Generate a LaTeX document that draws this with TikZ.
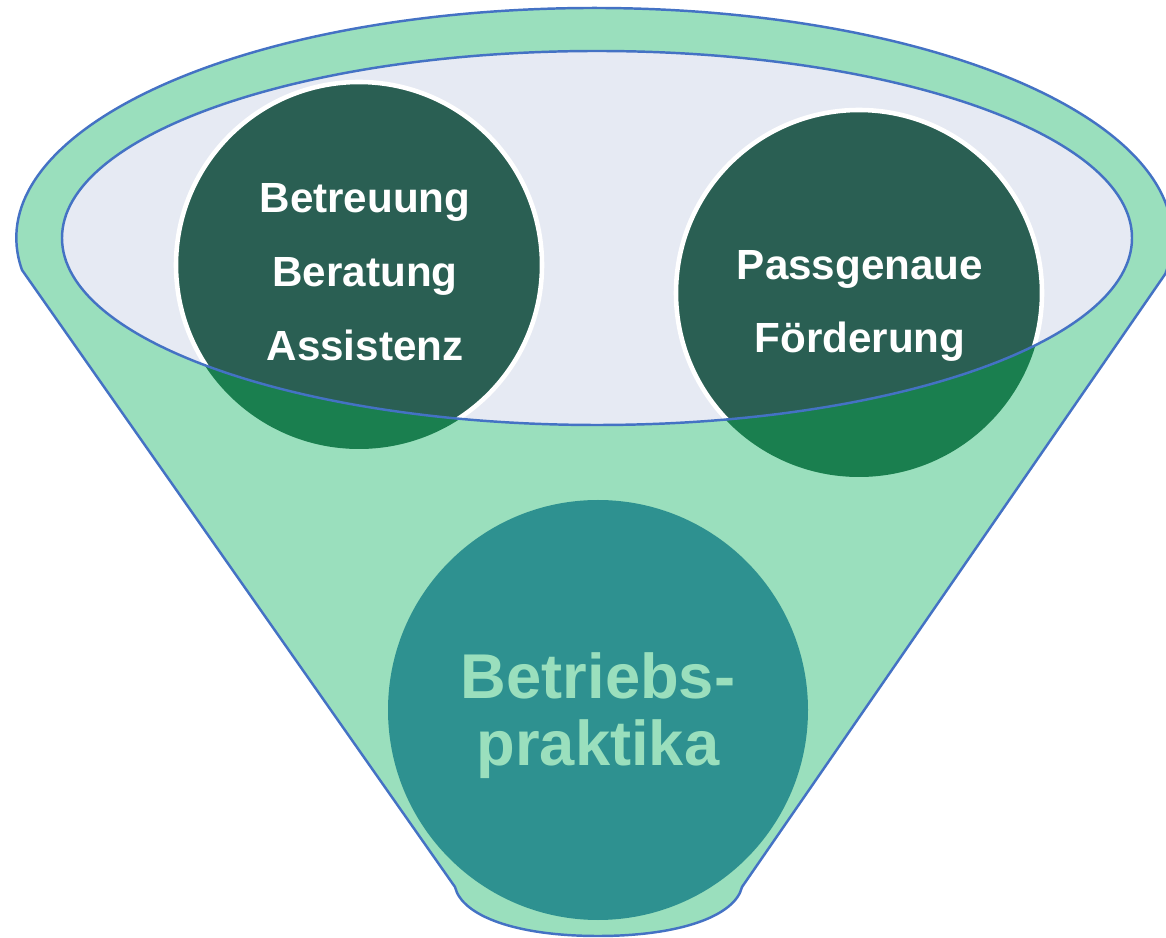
\documentclass[tikz,border=0pt]{standalone}
\usepackage{fontspec}
\setmainfont{Liberation Sans}
\definecolor{funnelgreen}{HTML}{9ADFBD}
\definecolor{rimblue}{HTML}{4472C4}
\definecolor{mouthgrey}{HTML}{E6EAF3}
\definecolor{darkpine}{HTML}{2A5F53}
\definecolor{deepgreen}{HTML}{1A7F4F}
\definecolor{tealfill}{HTML}{2E9190}
\tikzset{
  funnel/.style={fill=funnelgreen,draw=rimblue,line width=0.7pt},
  mouth/.style={draw=rimblue,line width=0.7pt},
  topball/.style={fill=darkpine,draw=white,line width=1.3pt},
  lowball/.style={fill=deepgreen},
  balltext/.style={text=white,font=\bfseries\fontsize{12}{21}\selectfont,align=center},
  bigtext/.style={text=funnelgreen,font=\bfseries\fontsize{18}{19}\selectfont,align=center}
}
\begin{document}
\begin{tikzpicture}
\useasboundingbox (0,0) rectangle (11.66,9.38);
\clip (0,0) rectangle (11.66,9.38);

\coordinate (lefthub)  at (3.59,6.73);
\coordinate (righthub) at (8.59,6.45);
\coordinate (tiphub)   at (5.98,2.28);
\coordinate (mouthhub) at (5.97,7.00);

\path[funnel] (0.22,6.68)
  arc[start angle=188,end angle=-9,x radius=5.78cm,y radius=2.30cm]
  -- (7.42,0.51)
  .. controls (7.35,0.22) and (6.80,0.02) .. (5.98,0.02)
  .. controls (5.16,0.02) and (4.62,0.22) .. (4.55,0.51)
  -- cycle;

\fill[mouthgrey] (mouthhub) ellipse[x radius=5.35cm,y radius=1.87cm];

\begin{scope}[every path/.style={lowball}]
  \path (lefthub)  circle[radius=1.84cm];
  \path (righthub) circle[radius=1.84cm];
\end{scope}

\begin{scope}
  \clip (mouthhub) ellipse[x radius=5.35cm,y radius=1.87cm];
  \path[topball] (lefthub)  circle[radius=1.83cm];
  \path[topball] (righthub) circle[radius=1.83cm];
\end{scope}

\path[mouth] (mouthhub) ellipse[x radius=5.35cm,y radius=1.87cm];

\fill[tealfill] (tiphub) circle[radius=2.10cm];

\node[balltext] (service) at (3.65,6.66) {Betreuung\\Beratung\\Assistenz};
\node[balltext] (support) at (8.60,6.32) {Passgenaue\\Förderung};
\node[bigtext]  (intern)  at (5.98,2.22) {Betriebs-\\praktika};

\end{tikzpicture}
\end{document}
